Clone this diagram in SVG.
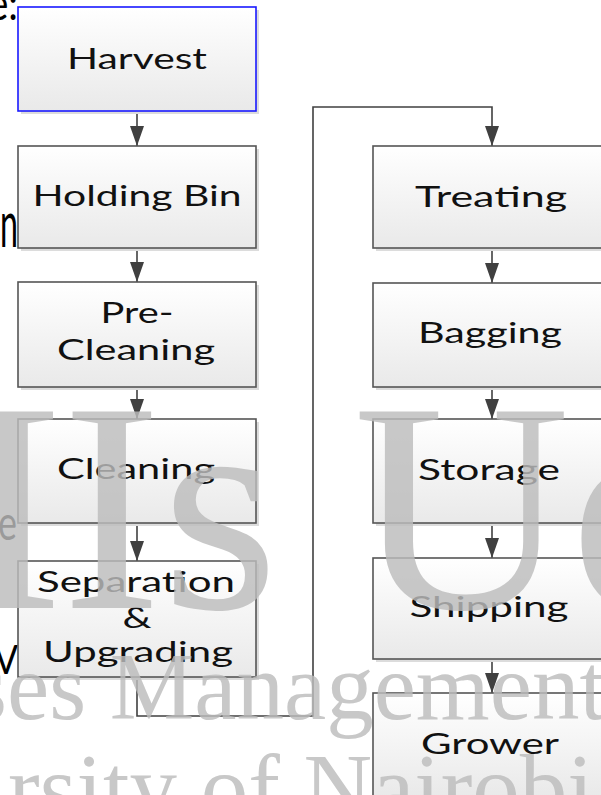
<svg xmlns="http://www.w3.org/2000/svg" width="601" height="795" viewBox="0 0 601 795">
<defs>
<linearGradient id="boxfill" x1="0" y1="0" x2="0" y2="1">
<stop offset="0" stop-color="#ffffff"/>
<stop offset="1" stop-color="#e9e9e9"/>
</linearGradient>
<marker id="arr" markerWidth="20" markerHeight="14" refX="20" refY="7" orient="auto" markerUnits="userSpaceOnUse">
<path d="M0,0 L20,7 L0,14 Z" fill="#404040"/>
</marker>
</defs>
<style>
.box{fill:url(#boxfill);stroke:#555555;stroke-width:1.6}
.shadow{fill:#dcdcdc}
.lbl{font-family:Lato,"Open Sans",sans-serif;font-size:28px;fill:#111111;text-anchor:middle}
.conn{fill:none;stroke:#404040;stroke-width:1.6}
.frag{font-family:Lato,"Liberation Sans",sans-serif;fill:#000000}
.wm{font-family:"Liberation Serif",serif;fill:#bcbcbc;fill-opacity:0.82}
</style>
<rect width="601" height="795" fill="#ffffff"/>
<g id="fragments">
<text class="frag" x="-12" y="20" font-size="46" textLength="30" lengthAdjust="spacingAndGlyphs">e:</text>
<text class="frag" x="0" y="247" font-size="64" textLength="18" lengthAdjust="spacingAndGlyphs">n</text>
<text class="frag" x="-2" y="540" font-size="48" textLength="19" lengthAdjust="spacingAndGlyphs">e</text>
<text class="frag" x="-6" y="674" font-size="40" textLength="24" lengthAdjust="spacingAndGlyphs">V</text>
</g>
<g id="connectors">
<line class="conn" x1="137" y1="111" x2="137" y2="146" marker-end="url(#arr)"/>
<line class="conn" x1="137" y1="248" x2="137" y2="282" marker-end="url(#arr)"/>
<line class="conn" x1="137" y1="387" x2="137" y2="419" marker-end="url(#arr)"/>
<line class="conn" x1="137" y1="523" x2="137" y2="561" marker-end="url(#arr)"/>
<polyline class="conn" points="137,677 137,716 313,716 313,107 492,107 492,146" marker-end="url(#arr)"/>
<line class="conn" x1="492" y1="248" x2="492" y2="283" marker-end="url(#arr)"/>
<line class="conn" x1="492" y1="387" x2="492" y2="419" marker-end="url(#arr)"/>
<line class="conn" x1="492" y1="523" x2="492" y2="558" marker-end="url(#arr)"/>
<line class="conn" x1="492" y1="659" x2="492" y2="693" marker-end="url(#arr)"/>
</g>
<g id="harvest">
<rect class="shadow" x="21" y="10" width="238" height="104"/>
<rect class="box" x="18" y="7" width="238" height="104" style="stroke:#1a1aff"/>
<text class="lbl" x="137" y="69" textLength="140" lengthAdjust="spacingAndGlyphs">Harvest</text>
</g>
<g id="holding-bin">
<rect class="shadow" x="21" y="149" width="238" height="102"/>
<rect class="box" x="18" y="146" width="238" height="102"/>
<text class="lbl" x="137" y="206" textLength="209" lengthAdjust="spacingAndGlyphs">Holding Bin</text>
</g>
<g id="pre-cleaning">
<rect class="shadow" x="21" y="285" width="238" height="105"/>
<rect class="box" x="18" y="282" width="238" height="105"/>
<text class="lbl" x="137" y="323" textLength="73" lengthAdjust="spacingAndGlyphs">Pre-</text>
<text class="lbl" x="136" y="360" textLength="158" lengthAdjust="spacingAndGlyphs">Cleaning</text>
</g>
<g id="cleaning">
<rect class="shadow" x="21" y="422" width="238" height="104"/>
<rect class="box" x="18" y="419" width="238" height="104"/>
<text class="lbl" x="136" y="479" textLength="158" lengthAdjust="spacingAndGlyphs">Cleaning</text>
</g>
<g id="separation">
<rect class="shadow" x="21" y="564" width="238" height="116"/>
<rect class="box" x="18" y="561" width="238" height="116"/>
<text class="lbl" x="136" y="592" textLength="198" lengthAdjust="spacingAndGlyphs">Separation</text>
<text class="lbl" x="137" y="628" textLength="29" lengthAdjust="spacingAndGlyphs">&amp;</text>
<text class="lbl" x="138" y="662" textLength="190" lengthAdjust="spacingAndGlyphs">Upgrading</text>
</g>
<g id="treating">
<rect class="shadow" x="376" y="149" width="238" height="102"/>
<rect class="box" x="373" y="146" width="238" height="102"/>
<text class="lbl" x="491" y="207" textLength="152" lengthAdjust="spacingAndGlyphs">Treating</text>
</g>
<g id="bagging">
<rect class="shadow" x="376" y="286" width="238" height="104"/>
<rect class="box" x="373" y="283" width="238" height="104"/>
<text class="lbl" x="490" y="343" textLength="144" lengthAdjust="spacingAndGlyphs">Bagging</text>
</g>
<g id="storage">
<rect class="shadow" x="376" y="422" width="238" height="104"/>
<rect class="box" x="373" y="419" width="238" height="104"/>
<text class="lbl" x="489" y="480" textLength="142" lengthAdjust="spacingAndGlyphs">Storage</text>
</g>
<g id="shipping">
<rect class="shadow" x="376" y="561" width="238" height="101"/>
<rect class="box" x="373" y="558" width="238" height="101"/>
<text class="lbl" x="489" y="617" textLength="159" lengthAdjust="spacingAndGlyphs">Shipping</text>
</g>
<g id="grower">
<rect class="shadow" x="376" y="696" width="238" height="104"/>
<rect class="box" x="373" y="693" width="238" height="104"/>
<text class="lbl" x="490" y="754" textLength="138" lengthAdjust="spacingAndGlyphs">Grower</text>
</g>
<g id="watermark">
<text class="wm" x="-205" y="608" font-size="300">MIs Uo</text>
<text class="wm" x="-30" y="719" font-size="95">ses Management</text>
<text class="wm" x="8" y="820" font-size="95">rsity of Nairobi</text>
</g>
</svg>
